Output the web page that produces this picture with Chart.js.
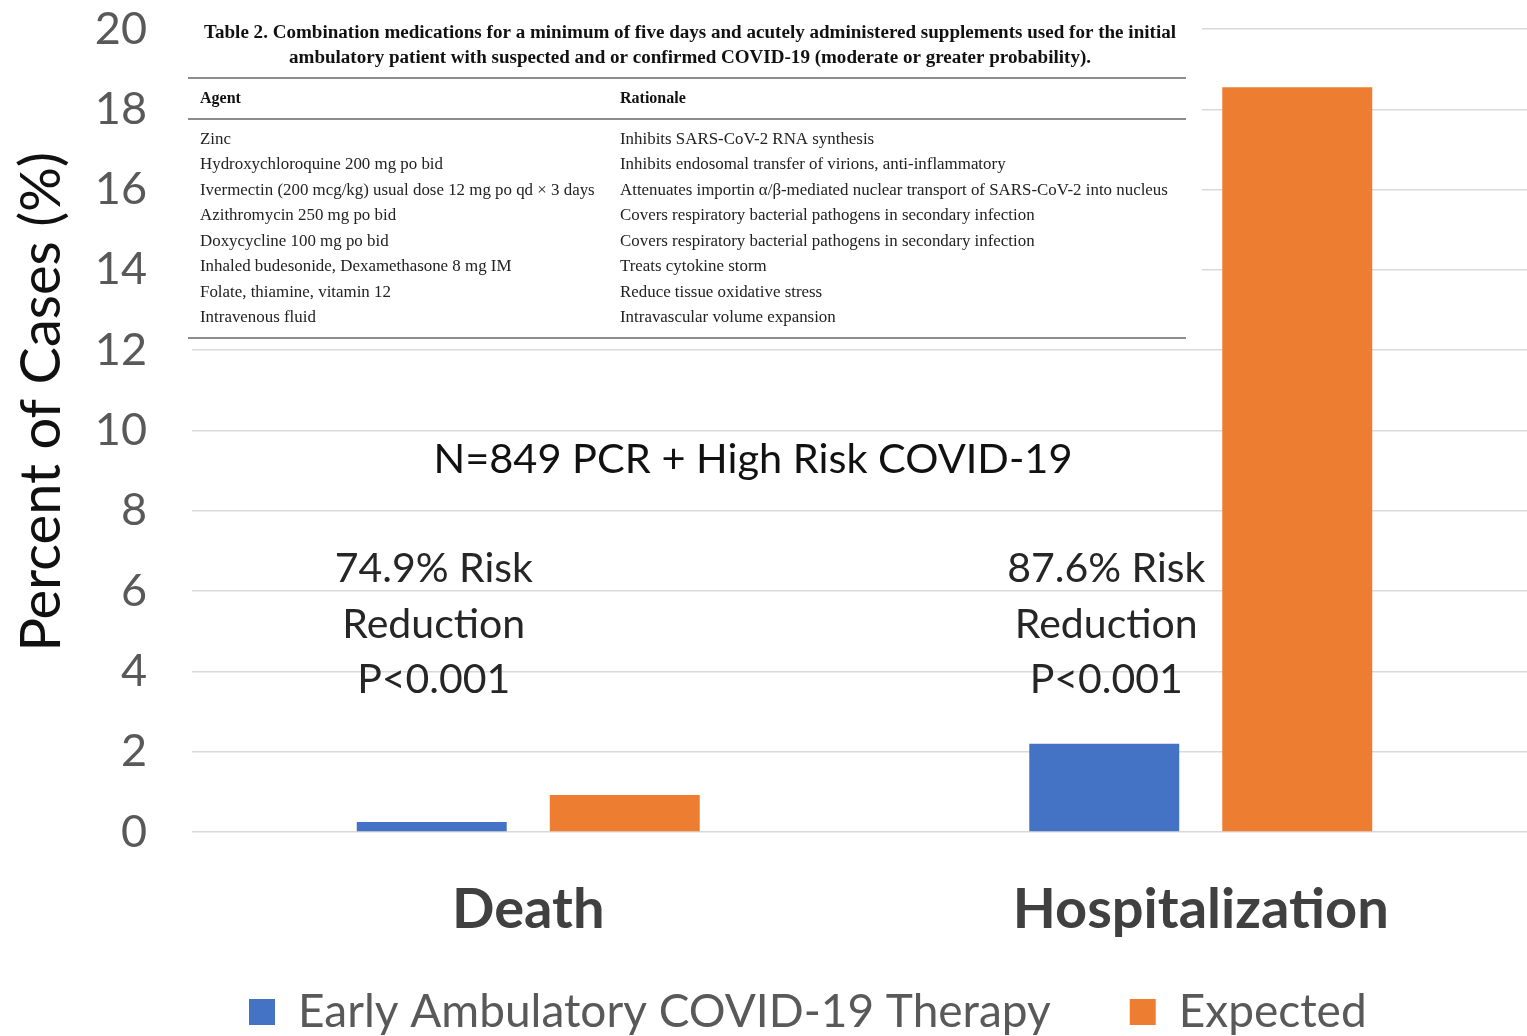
<html>
  <head>
    <title>Percent of Cases</title>
    <script src="https://cdn.jsdelivr.net/npm/chart.js"></script>
    <style>
      body { margin: 0; overflow: hidden; background: #fff; }
      #wrap { position: absolute; left: 0; top: 0; width: 1537px; height: 1036px; }
    </style>
  </head>
  <body>
    <div id="wrap">
      <canvas id="riskChart"></canvas>
    </div>

    <script>
      const categories = ['Death', 'Hospitalization'];
      const earlyTherapy = [0.25, 2.2];
      const expected = [0.92, 18.55];
      const yTicks = [0, 2, 4, 6, 8, 10, 12, 14, 16, 18, 20];
      const riskNotes = [
        ['74.9% Risk', 'Reduction', 'P<0.001'],
        ['87.6% Risk', 'Reduction', 'P<0.001']
      ];
      const headline = 'N=849 PCR + High Risk COVID-19';

      const tableTitle = [
        'Table 2. Combination medications for a minimum of five days and acutely administered supplements used for the initial',
        'ambulatory patient with suspected and or confirmed COVID-19 (moderate or greater probability).'
      ];
      const agents = [
        'Zinc',
        'Hydroxychloroquine 200 mg po bid',
        'Ivermectin (200 mcg/kg) usual dose 12 mg po qd \u00d7 3 days',
        'Azithromycin 250 mg po bid',
        'Doxycycline 100 mg po bid',
        'Inhaled budesonide, Dexamethasone 8 mg IM',
        'Folate, thiamine, vitamin 12',
        'Intravenous fluid'
      ];
      const rationales = [
        'Inhibits SARS-CoV-2 RNA synthesis',
        'Inhibits endosomal transfer of virions, anti-inflammatory',
        'Attenuates importin \u03b1/\u03b2-mediated nuclear transport of SARS-CoV-2 into nucleus',
        'Covers respiratory bacterial pathogens in secondary infection',
        'Covers respiratory bacterial pathogens in secondary infection',
        'Treats cytokine storm',
        'Reduce tissue oxidative stress',
        'Intravascular volume expansion'
      ];

      // draw text squeezed/stretched to a given width
      function fitText(ctx, txt, x, y, w, align) {
        const mw = ctx.measureText(txt).width;
        const k = w / mw;
        ctx.save();
        let x0 = x;
        if (align === 'center') x0 = x - w / 2;
        ctx.translate(x0, y);
        ctx.scale(k, 1);
        ctx.textAlign = 'left';
        ctx.fillText(txt, 0, 0);
        ctx.restore();
      }

      const tablePlugin = {
        id: 'tableOverlay',
        afterLayout(chart) {
          // legend: wide gap between items but kept low and a bit right of centre
          const lg = chart.legend;
          const pad = lg.options.labels.padding;
          lg.left = 249 - pad;
          lg.top = 1012 - 23 - pad;
          lg.bottom = chart.height;
          lg.height = lg.bottom - lg.top;
        },
        beforeDatasetsDraw(chart) {
          const ctx = chart.ctx;
          ctx.save();
          ctx.fillStyle = '#ffffff';
          ctx.fillRect(186, 10, 1016, 338);

          ctx.fillStyle = '#111';
          ctx.textBaseline = 'middle';
          ctx.font = 'bold 18.5px "Liberation Serif"';
          fitText(ctx, tableTitle[0], 690, 33, 972, 'center');
          fitText(ctx, tableTitle[1], 690, 58, 802, 'center');

          ctx.strokeStyle = '#666';
          ctx.lineWidth = 1.5;
          [78, 119, 338].forEach(y => {
            ctx.beginPath();
            ctx.moveTo(188, y);
            ctx.lineTo(1186, y);
            ctx.stroke();
          });

          ctx.font = 'bold 16px "Liberation Serif"';
          ctx.textAlign = 'left';
          ctx.fillText('Agent', 200, 99);
          ctx.fillText('Rationale', 620, 99);

          ctx.font = '16.9px "Liberation Serif"';
          ctx.fillStyle = '#222';
          agents.forEach((a, i) => {
            const y = 139.5 + i * 25.5;
            ctx.fillText(a, 200, y);
            ctx.fillText(rationales[i], 620, y);
          });
          ctx.restore();
        },
        afterDatasetsDraw(chart) {
          const ctx = chart.ctx;
          const yS = chart.scales.y;
          const meta = chart.getDatasetMeta(0);
          ctx.save();
          ctx.textAlign = 'center';
          ctx.textBaseline = 'middle';
          ctx.fillStyle = '#111';
          ctx.font = '41.5px Lato';
          ctx.fillText(headline, 753, yS.getPixelForValue(9.28));

          ctx.font = '41px Lato';
          ctx.fillStyle = '#262626';
          const lineVals = [6.56, 5.17, 3.78];
          riskNotes.forEach((lines, i) => {
            const x = meta.data[i].x + 2;
            lines.forEach((t, j) => ctx.fillText(t, x, yS.getPixelForValue(lineVals[j])));
          });
          ctx.restore();
        }
      };

      const ctx = document.getElementById('riskChart');

      new Chart(ctx, {
        type: 'bar',
        data: {
          labels: categories,
          datasets: [
            {
              label: 'Early Ambulatory COVID-19 Therapy',
              data: earlyTherapy,
              backgroundColor: '#4472c4',
              categoryPercentage: 0.574,
              barPercentage: 0.777
            },
            {
              label: 'Expected',
              data: expected,
              backgroundColor: '#ed7d31',
              categoryPercentage: 0.574,
              barPercentage: 0.777
            }
          ]
        },
        options: {
          responsive: true,
          maintainAspectRatio: false,
          animation: false,
          layout: { padding: { top: 29, right: 0, left: 0, bottom: 0 } },
          plugins: {
            tooltip: { enabled: false },
            legend: {
              position: 'bottom',
              align: 'start',
              maxHeight: 66,
              labels: {
                boxWidth: 26,
                boxHeight: 26,
                padding: 79,
                color: '#595959',
                font: { family: 'Lato', size: 46 }
              }
            }
          },
          scales: {
            x: {
              grid: { display: false },
              border: { display: false },
              ticks: {
                color: '#404040',
                padding: 36,
                font: { family: 'Lato', size: 56, weight: 'bold' }
              },
              afterFit: s => { s.height = 138; }
            },
            y: {
              min: 0,
              max: 20,
              afterBuildTicks: s => { s.ticks = yTicks.map(v => ({ value: v })); },
              grid: { color: '#d9d9d9', lineWidth: 1.5, drawTicks: false },
              border: { display: false },
              ticks: {
                color: '#595959',
                padding: 45,
                font: { family: 'Lato', size: 45 }
              },
              title: {
                display: true,
                text: '    Percent of Cases (%)',
                color: '#111',
                padding: { top: 8, bottom: 0 },
                font: { family: 'Lato', size: 56 }
              },
              afterFit: s => {
                s.width = 192;
                s.paddingTop = 0;
                s.paddingBottom = 0;
              }
            }
          }
        },
        plugins: [tablePlugin]
      });
    </script>
  </body>
</html>
